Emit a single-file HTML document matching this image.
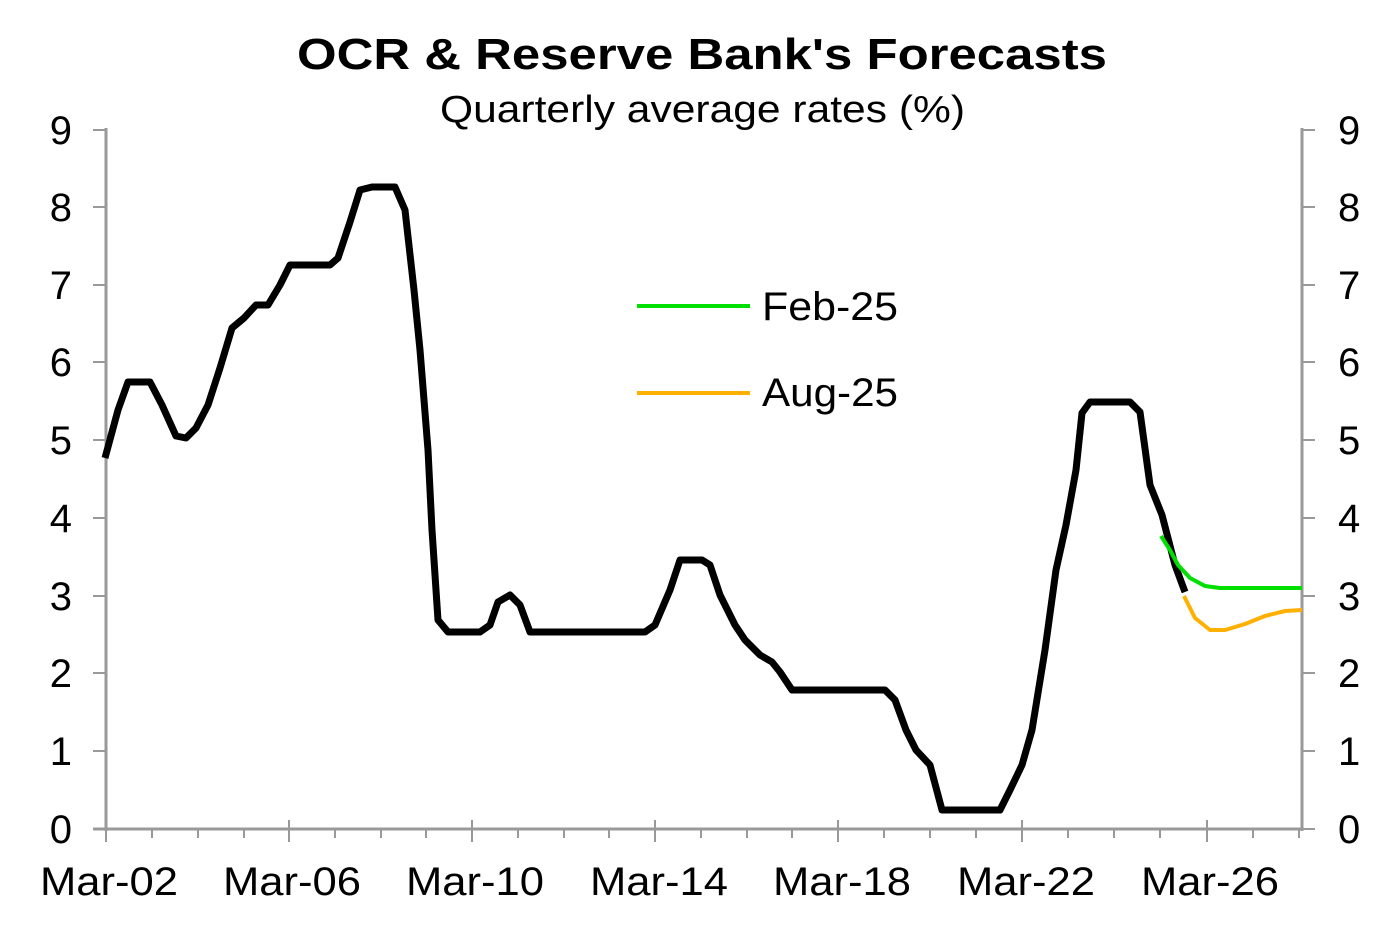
<!DOCTYPE html>
<html><head><style>body{margin:0;background:#fff}svg{display:block}text{font-family:"Liberation Sans",Arial,sans-serif}</style></head>
<body>
<svg width="1400" height="927" viewBox="0 0 1400 927">
<text x="297" y="69" font-size="44" font-weight="bold" textLength="810" lengthAdjust="spacingAndGlyphs">OCR &amp; Reserve Bank's Forecasts</text>
<text x="440" y="122" font-size="38" textLength="525" lengthAdjust="spacingAndGlyphs">Quarterly average rates (%)</text>
<g stroke="#999" stroke-width="3" fill="none">
<line x1="106" y1="128" x2="106" y2="831"/>
<line x1="1302" y1="128" x2="1302" y2="831"/>
<line x1="93" y1="829" x2="1302" y2="829"/>
</g>
<g stroke="#999" stroke-width="2">
<line x1="93" y1="130" x2="106" y2="130"/><line x1="93" y1="207" x2="106" y2="207"/><line x1="93" y1="285" x2="106" y2="285"/><line x1="93" y1="362" x2="106" y2="362"/><line x1="93" y1="440" x2="106" y2="440"/><line x1="93" y1="518" x2="106" y2="518"/><line x1="93" y1="596" x2="106" y2="596"/><line x1="93" y1="673" x2="106" y2="673"/><line x1="93" y1="751" x2="106" y2="751"/>
<line x1="1302" y1="130" x2="1315" y2="130"/><line x1="1302" y1="207" x2="1315" y2="207"/><line x1="1302" y1="285" x2="1315" y2="285"/><line x1="1302" y1="362" x2="1315" y2="362"/><line x1="1302" y1="440" x2="1315" y2="440"/><line x1="1302" y1="518" x2="1315" y2="518"/><line x1="1302" y1="596" x2="1315" y2="596"/><line x1="1302" y1="673" x2="1315" y2="673"/><line x1="1302" y1="751" x2="1315" y2="751"/><line x1="1302" y1="829" x2="1315" y2="829"/>
<line x1="106" y1="820" x2="106" y2="842"/><line x1="289" y1="820" x2="289" y2="842"/><line x1="472" y1="820" x2="472" y2="842"/><line x1="655" y1="820" x2="655" y2="842"/><line x1="838" y1="820" x2="838" y2="842"/><line x1="1022" y1="820" x2="1022" y2="842"/><line x1="1207" y1="820" x2="1207" y2="842"/>
<line x1="152" y1="829" x2="152" y2="838"/><line x1="198" y1="829" x2="198" y2="838"/><line x1="244" y1="829" x2="244" y2="838"/><line x1="335" y1="829" x2="335" y2="838"/><line x1="381" y1="829" x2="381" y2="838"/><line x1="426" y1="829" x2="426" y2="838"/><line x1="518" y1="829" x2="518" y2="838"/><line x1="564" y1="829" x2="564" y2="838"/><line x1="609" y1="829" x2="609" y2="838"/><line x1="701" y1="829" x2="701" y2="838"/><line x1="747" y1="829" x2="747" y2="838"/><line x1="792" y1="829" x2="792" y2="838"/><line x1="884" y1="829" x2="884" y2="838"/><line x1="930" y1="829" x2="930" y2="838"/><line x1="976" y1="829" x2="976" y2="838"/><line x1="1068" y1="829" x2="1068" y2="838"/><line x1="1114" y1="829" x2="1114" y2="838"/><line x1="1160" y1="829" x2="1160" y2="838"/><line x1="1253" y1="829" x2="1253" y2="838"/><line x1="1299" y1="829" x2="1299" y2="838"/>
</g>
<g font-size="40" text-anchor="end">
<text x="72" y="144">9</text><text x="72" y="221">8</text><text x="72" y="299">7</text><text x="72" y="376">6</text><text x="72" y="454">5</text><text x="72" y="532">4</text><text x="72" y="610">3</text><text x="72" y="687">2</text><text x="72" y="765">1</text><text x="72" y="843">0</text>
</g>
<g font-size="40">
<text x="1338" y="144">9</text><text x="1338" y="221">8</text><text x="1338" y="299">7</text><text x="1338" y="376">6</text><text x="1338" y="454">5</text><text x="1338" y="532">4</text><text x="1338" y="610">3</text><text x="1338" y="687">2</text><text x="1338" y="765">1</text><text x="1338" y="843">0</text>
</g>
<g font-size="40">
<text x="40" y="895" textLength="138" lengthAdjust="spacingAndGlyphs">Mar-02</text>
<text x="223" y="895" textLength="138" lengthAdjust="spacingAndGlyphs">Mar-06</text>
<text x="406" y="895" textLength="138" lengthAdjust="spacingAndGlyphs">Mar-10</text>
<text x="590" y="895" textLength="138" lengthAdjust="spacingAndGlyphs">Mar-14</text>
<text x="773" y="895" textLength="138" lengthAdjust="spacingAndGlyphs">Mar-18</text>
<text x="957" y="895" textLength="138" lengthAdjust="spacingAndGlyphs">Mar-22</text>
<text x="1141" y="895" textLength="138" lengthAdjust="spacingAndGlyphs">Mar-26</text>
</g>
<polyline fill="none" stroke="#000" stroke-width="7" stroke-linejoin="round" points="105,458 118,410 128,382 150,382 162,405 176,436 186,438 196,428 208,405 220,368 232,328 244,318 256,305 268,305 280,285 290,265 302,265 330,265 338,258 350,222 360,190 372,187 395,187 405,210 414,290 420,350 428,450 432,530 438,620 448,632 480,632 490,625 498,602 510,595 520,605 530,632 645,632 655,625 670,590 680,560 702,560 710,565 720,595 735,625 745,640 760,655 772,662 780,672 792,690 885,690 895,700 906,730 916,750 930,765 942,810 1000,810 1010,790 1022,765 1032,730 1045,650 1056,570 1066,525 1076,470 1082,413 1090,402 1130,402 1140,412 1150,485 1162,515 1175,565 1185,592"/>
<polyline fill="none" stroke="#00e000" stroke-width="4" stroke-linejoin="round" points="1161,536 1170,550 1178,565 1190,578 1205,586 1220,588 1302,588"/>
<polyline fill="none" stroke="#ffb000" stroke-width="4" stroke-linejoin="round" points="1184,596 1195,618 1210,630 1225,630 1245,624 1265,616 1285,611 1302,610"/>
<line x1="637" y1="306" x2="750" y2="306" stroke="#00e000" stroke-width="4"/>
<line x1="637" y1="393" x2="750" y2="393" stroke="#ffb000" stroke-width="4"/>
<text x="762" y="320" font-size="40" textLength="136" lengthAdjust="spacingAndGlyphs">Feb-25</text>
<text x="762" y="406" font-size="40" textLength="136" lengthAdjust="spacingAndGlyphs">Aug-25</text>
</svg>
</body></html>
